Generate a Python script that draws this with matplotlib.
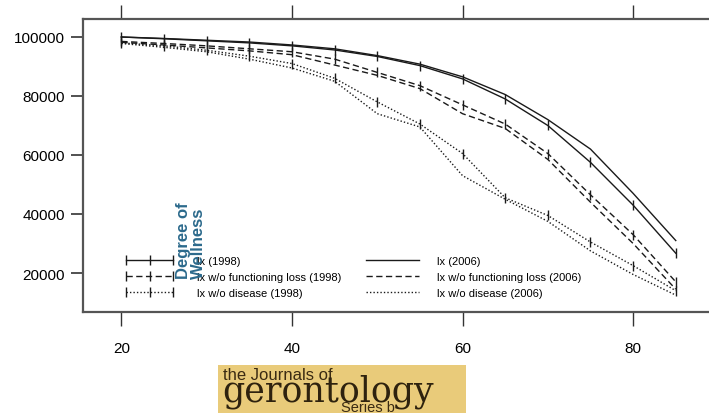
import matplotlib
matplotlib.use('Agg')
import matplotlib.pyplot as plt
from matplotlib.patches import Rectangle

plt.rcParams['font.family'] = ['Liberation Sans', 'DejaVu Sans']

ages = [20, 25, 30, 35, 40, 45, 50, 55, 60, 65, 70, 75, 80, 85]

lx_1998 = [100000, 99400, 98700, 98000, 97000, 95600, 93400, 90300, 85800, 79000, 70000, 57500, 43000, 26700]
fl_1998 = [98500, 97800, 97000, 96000, 95000, 92500, 88000, 83500, 77000, 70500, 60500, 46500, 33000, 17000]
dis_1998 = [98000, 97000, 95500, 93500, 91000, 86000, 78000, 70500, 60500, 45500, 39500, 30500, 22500, 14000]

lx_2006 = [100000, 99500, 98900, 98300, 97300, 96000, 93700, 90800, 86500, 80500, 72000, 62000, 47000, 31000]
fl_2006 = [98200, 97300, 96300, 95300, 94000, 90500, 87000, 82500, 74000, 69000, 58500, 44000, 30000, 14500]
dis_2006 = [97800, 96500, 95000, 92500, 89500, 85000, 74000, 69500, 53000, 45000, 37500, 27500, 19500, 12500]

labels_1998 = ['lx (1998)', 'lx w/o functioning loss (1998)', 'lx w/o disease (1998)']
labels_2006 = ['lx (2006)', 'lx w/o functioning loss (2006)', 'lx w/o disease (2006)']

xticks = [20, 40, 60, 80]
yticks = [20000, 40000, 60000, 80000, 100000]

col = '#1a1a1a'
styles = ['-', (0, (4.5, 2.5)), (0, (1, 1.5))]

fig = plt.figure(figsize=(7.09, 4.14), dpi=100)
ax = fig.add_axes([83 / 709, 101 / 414, 632 / 709, 293 / 414])

h98 = []
for vals, ls, lab in zip([lx_1998, fl_1998, dis_1998], styles, labels_1998):
    ln, = ax.plot(ages, vals, color=col, lw=1.0, ls=ls, marker='|', ms=7, mew=1.0, label=lab)
    h98.append(ln)
h06 = []
for vals, ls, lab in zip([lx_2006, fl_2006, dis_2006], styles, labels_2006):
    ln, = ax.plot(ages, vals, color=col, lw=1.0, ls=ls, label=lab)
    h06.append(ln)

ax.set_xlim(15.5, 89.6)
ax.set_ylim(6780, 106100)
ax.set_xticks(xticks)
ax.set_yticks(yticks)
ax.set_yticklabels([str(v) for v in yticks])
ax.tick_params(axis='x', direction='out', length=10, width=1.0, pad=11,
               top=True, labeltop=False, labelsize=11, color='#333333')
ax.tick_params(axis='y', direction='out', length=9, width=1.2, pad=4,
               right=False, labelsize=11, color='#333333')
for s in ax.spines.values():
    s.set_color('#555555')
    s.set_linewidth(1.6)

leg1 = ax.legend(handles=h98, loc='upper left', bbox_to_anchor=(40 / 632, 1 - 237 / 293),
                 frameon=False, fontsize=8, handlelength=4.8, handletextpad=1.9,
                 numpoints=3, labelspacing=0.55, borderpad=0, borderaxespad=0)
ax.add_artist(leg1)
ax.legend(handles=h06, loc='upper left', bbox_to_anchor=(283 / 632, 1 - 237 / 293),
          frameon=False, fontsize=8, handlelength=4.8, handletextpad=1.6,
          labelspacing=0.55, borderpad=0, borderaxespad=0)

fig.text(191 / 709, 1 - 279 / 414, 'Degree of\nWellness', rotation=90, ha='center', va='bottom',
         multialignment='left', fontsize=12, fontweight='bold', color='#2c6a8c', linespacing=1.0)

# journal logo box
fig.patches.append(Rectangle((218 / 709, 0), 248 / 709, 48 / 414, transform=fig.transFigure,
                             facecolor='#e9cb7a', edgecolor='none'))
fig.text(223 / 709, 1 - 380 / 414, 'the Journals of', fontsize=12, color='#3a2a12',
         va='baseline', ha='left')
fig.text(222 / 709, 1 - 402 / 414, 'gerontology', family='DejaVu Serif', fontsize=25,
         color='#2e220e', va='baseline', ha='left')
fig.text(341 / 709, 1 - 412 / 414, 'Series b', fontsize=10.5, color='#3a2a12',
         va='baseline', ha='left')

fig.savefig('out.png', dpi=100)
